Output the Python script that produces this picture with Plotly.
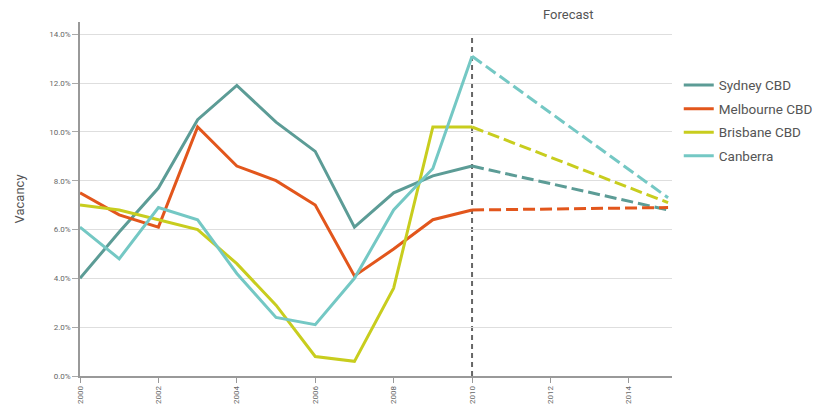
import plotly.graph_objects as go

years = [2000, 2001, 2002, 2003, 2004, 2005, 2006, 2007, 2008, 2009, 2010]
forecast_years = [2010, 2015]

sydney = [4.0, 5.9, 7.7, 10.5, 11.9, 10.4, 9.2, 6.1, 7.5, 8.2, 8.6]
melbourne = [7.5, 6.6, 6.1, 10.2, 8.6, 8.0, 7.0, 4.1, 5.2, 6.4, 6.8]
brisbane = [7.0, 6.8, 6.4, 6.0, 4.6, 2.9, 0.8, 0.6, 3.6, 10.2, 10.2]
canberra = [6.1, 4.8, 6.9, 6.4, 4.2, 2.4, 2.1, 4.0, 6.8, 8.5, 13.1]

sydney_2015 = 6.8
melbourne_2015 = 6.9
brisbane_2015 = 7.1
canberra_2015 = 7.3

names = ["Sydney CBD", "Melbourne CBD", "Brisbane CBD", "Canberra"]
colors = ["#5c9c96", "#e2561c", "#c8cd1e", "#74c8c4"]
series = [sydney, melbourne, brisbane, canberra]
ends = [sydney_2015, melbourne_2015, brisbane_2015, canberra_2015]

fig = go.Figure()
for name, col, vals, end in zip(names, colors, series, ends):
    fig.add_trace(go.Scatter(x=years, y=vals, mode="lines", name=name,
                             legendgroup=name,
                             line=dict(color=col, width=3)))
for name, col, vals, end in zip(names, colors, series, ends):
    fig.add_trace(go.Scatter(x=forecast_years, y=[vals[-1], end], mode="lines",
                             name=name, legendgroup=name, showlegend=False,
                             line=dict(color=col, width=3, dash="12px,5px")))

fig.add_shape(type="line", xref="x", yref="y", x0=2010, x1=2010, y0=0, y1=14,
              line=dict(color="#666666", width=2, dash="5px,4px"), layer="below")

fig.add_annotation(x=0.824, y=1.02, xref="paper", yref="paper", text="Forecast",
                   showarrow=False, xanchor="center", yanchor="middle",
                   font=dict(size=13, color="#555555", family="Roboto"))

fig.update_layout(
    width=817, height=399,
    margin=dict(l=72, r=153, t=14, b=31),
    paper_bgcolor="white", plot_bgcolor="white",
    font=dict(family="Roboto", color="#555555"),
    showlegend=True,
    legend=dict(x=0.821, y=0.845, xref="container", yref="container",
                xanchor="left", yanchor="top",
                font=dict(size=13.5, color="#555555", family="Roboto"),
                bgcolor="rgba(0,0,0,0)", tracegroupgap=3),
    xaxis=dict(range=[2000, 2015.1], tickvals=[2000, 2002, 2004, 2006, 2008, 2010, 2012, 2014],
               ticktext=["2000", "2002", "2004", "2006", "2008", "2010", "2012", "2014"],
               tickangle=-90, tickfont=dict(size=8, color="#666666"),
               showgrid=False, zeroline=False, showline=True, linecolor="#999999",
               linewidth=1.5, ticks="outside", ticklen=5, tickcolor="#999999",
               automargin=False),
    yaxis=dict(range=[0, 14.5], tickvals=[0, 2, 4, 6, 8, 10, 12, 14],
               ticktext=["0.0%", "2.0%", "4.0%", "6.0%", "8.0%", "10.0%", "12.0%", "14.0%"],
               tickfont=dict(size=8, color="#666666"),
               showgrid=True, gridcolor="#dedede", gridwidth=1, zeroline=False,
               showline=True, linecolor="#999999", linewidth=1.5,
               ticks="outside", ticklen=6, tickcolor="#aaaaaa", automargin=False,
               title=dict(text="Vacancy", font=dict(size=13, color="#555555"), standoff=22)),
)

fig.write_html("out.html")
